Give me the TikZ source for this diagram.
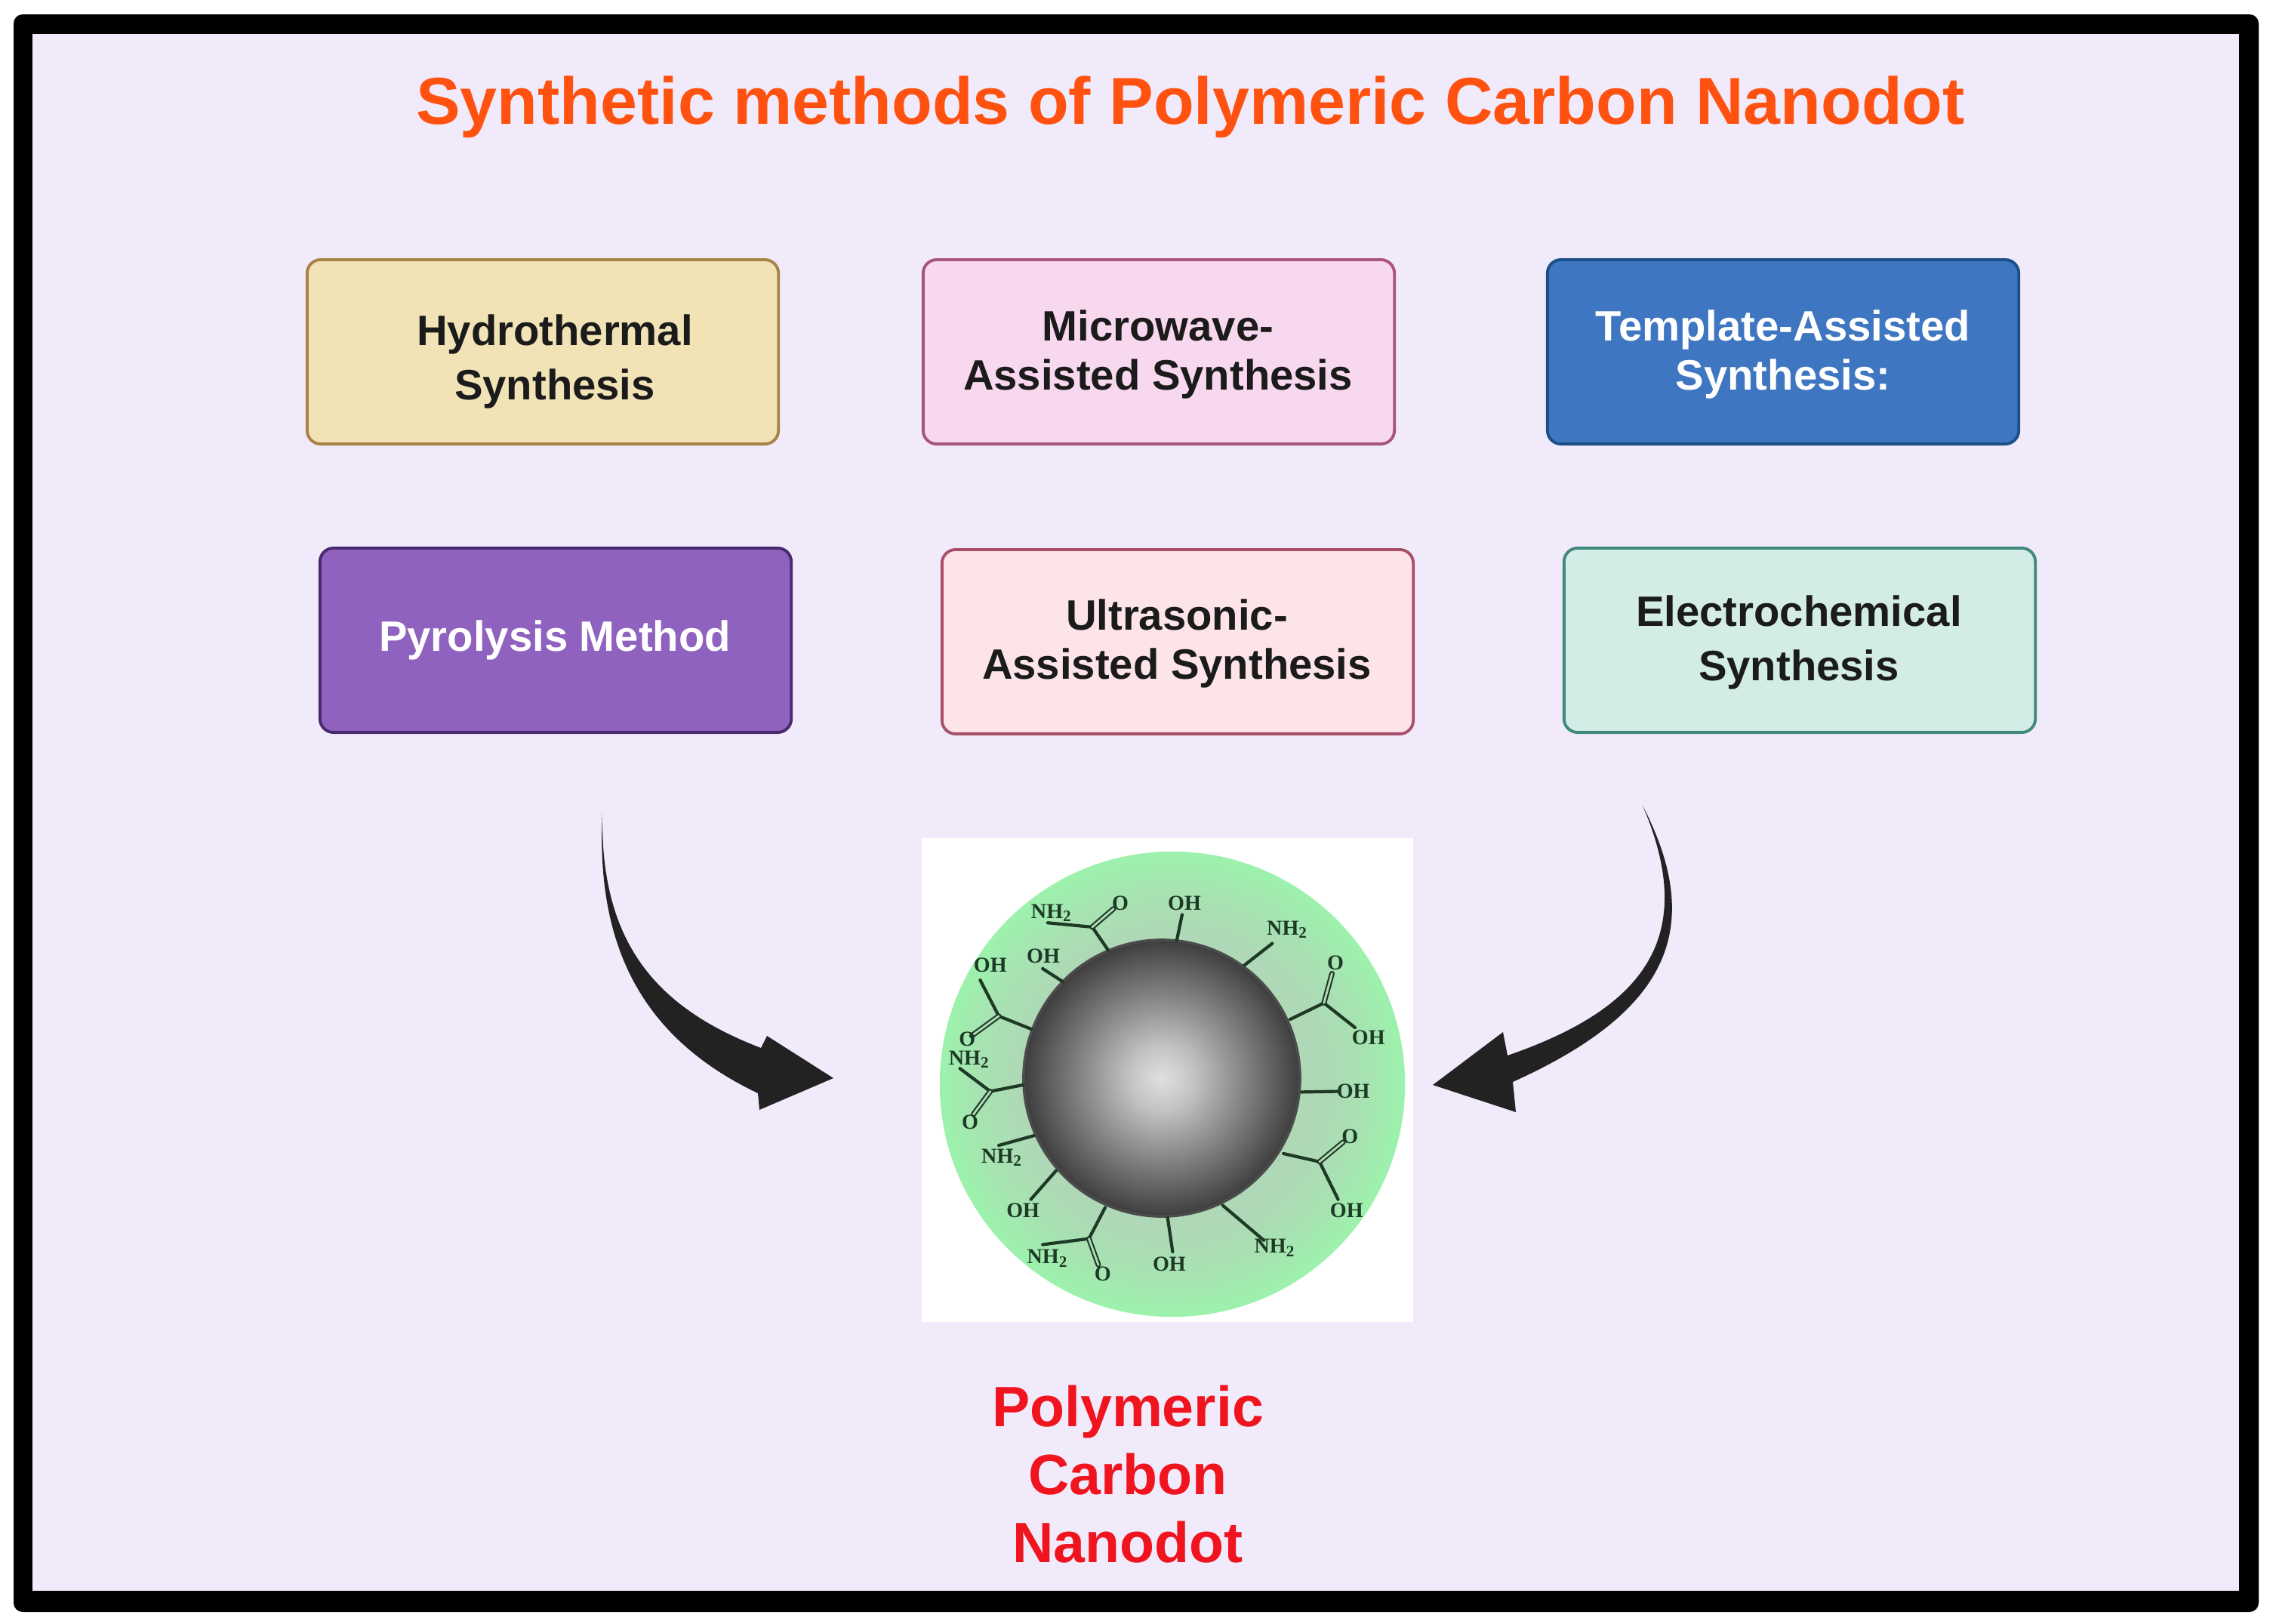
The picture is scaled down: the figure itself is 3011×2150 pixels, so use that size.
\documentclass[tikz,border=0pt]{standalone}
\usepackage{fontspec, tikz, tkz-euclide}
\setmainfont{Liberation Sans}
\newfontfamily\chemfont{Liberation Serif}
\newcommand{\nhtwo}{NH\textsubscript{2}}
\definecolor{pagebg}{HTML}{F1EAFB}
\definecolor{titleorange}{HTML}{FF5210}
\definecolor{nanored}{HTML}{F0141E}
\definecolor{inkdark}{HTML}{1B1B1B}
\definecolor{arrowdark}{HTML}{222222}
\definecolor{chemgreen}{HTML}{1E3A26}
\definecolor{hydrofill}{HTML}{F1E3B6}
\definecolor{hydroline}{HTML}{A88348}
\definecolor{microfill}{HTML}{F8D8EE}
\definecolor{microline}{HTML}{A8527F}
\definecolor{templatefill}{HTML}{3E76C2}
\definecolor{templateline}{HTML}{1C4F86}
\definecolor{pyrofill}{HTML}{8F62BF}
\definecolor{pyroline}{HTML}{4A2A6E}
\definecolor{ultrafill}{HTML}{FCE4E8}
\definecolor{ultraline}{HTML}{A8506A}
\definecolor{electrofill}{HTML}{D3EDE6}
\definecolor{electroline}{HTML}{3F8A7C}
\definecolor{haloin}{HTML}{AFD8B6}
\definecolor{haloout}{HTML}{9CF2AC}
\pgfdeclareradialshading{coreshade}{\pgfpointorigin}{color(0bp)=(white!88!black); color(6bp)=(white!76!black); color(12.5bp)=(white!58!black); color(20bp)=(white!38!black); color(24bp)=(white!27!black); color(25bp)=(white!24!black); color(50bp)=(white!24!black)}
\pgfdeclareradialshading{haloshade}{\pgfpointorigin}{color(0bp)=(haloin); color(16bp)=(haloin); color(21bp)=(haloin!55!haloout); color(25bp)=(haloout); color(50bp)=(haloout)}
\tikzset{
    methodbox/.style={draw=#1line, fill=#1fill, rounded corners=0.18cm, line width=1.1pt, minimum width=6.24cm, minimum height=2.44cm},
    methodtext/.style={font=\fontsize{16}{18.5}\selectfont\bfseries, align=center, text=inkdark},
    bond/.style={line width=1.2pt, color=chemgreen},
    dblbond/.style={line width=0.6pt, double=haloin, double distance=0.8pt, color=chemgreen},
    chemlabel/.style={font=\chemfont\bfseries\fontsize{8}{8}\selectfont, text=chemgreen, inner sep=0pt}
}
\begin{document}
\begin{tikzpicture}[x=0.01cm, y=-0.01cm]
    \useasboundingbox (0,0) rectangle (3011,2150);
    \fill[white] (0,0) rectangle (3011,2150);
    \fill[black, rounded corners=0.12cm] (18,19) rectangle (2992,2135);
    \fill[pagebg] (43,45) rectangle (2966,2107);

    \node[font=\fontsize{25}{30}\selectfont\bfseries, text=titleorange] (title) at (1577,142) {Synthetic methods of Polymeric Carbon Nanodot};

    \node[methodbox=hydro] (hydrobox) at (719,466) {};
    \node[methodbox=micro] (microbox) at (1535,466) {};
    \node[methodbox=template] (templatebox) at (2362,466) {};
    \node[methodbox=pyro] (pyrobox) at (736,848) {};
    \node[methodbox=ultra] (ultrabox) at (1560,850) {};
    \node[methodbox=electro] (electrobox) at (2384,848) {};

    \node[methodtext] (hydrotext) at (735,479) {Hydrothermal\\[2pt]Synthesis};
    \node[methodtext] (microtext) at (1534,469) {Microwave-\\Assisted Synthesis};
    \node[methodtext, text=white] (templatetext) at (2362,469) {Template-Assisted\\Synthesis:};
    \node[methodtext, text=white] (pyrotext) at (735,848) {Pyrolysis Method};
    \node[methodtext] (ultratext) at (1559,852) {Ultrasonic-\\Assisted Synthesis};
    \node[methodtext] (electrotext) at (2383,851) {Electrochemical\\[2pt]Synthesis};

    \fill[arrowdark] (798,1077) .. controls (790,1240) and (840,1370) .. (1004,1448) -- (1006,1470) -- (1104,1428) -- (1016,1372) -- (1008,1388) .. controls (870,1335) and (795,1250) .. (798,1077) -- cycle;
    \fill[arrowdark] (2176,1067) .. controls (2260,1230) and (2210,1340) .. (2004,1433) -- (2008,1473) -- (1898,1437) -- (1991,1367) -- (1997,1398) .. controls (2180,1335) and (2250,1240) .. (2176,1067) -- cycle;

    \fill[white] (1221,1110) rectangle (1872,1751);
    \shade[shading=haloshade] (1553,1436) circle [radius=3.08cm];
    \shade[shading=coreshade] (1539,1428) circle [radius=1.83cm];
    \draw[line width=1pt, color=black!70] (1539,1428) circle [radius=1.83cm];

    \begin{scope}[shift={(1200,1090)}, x=0.004464cm, y=-0.004337cm]
        \tkzDefPoints{802/360/a1, 818/280/a2, 1002/435/b1, 1085/368/b2, 1138/600/c1, 1238/550/c2, 1330/625/c3, 1262/460/c4, 1172/822/d1, 1280/820/d2, 1118/1010/e1, 1225/1035/e2, 1295/975/e3, 1280/1150/e4, 938/1168/f1, 1060/1275/f2, 775/1205/g1, 790/1310/g2}
        \tkzDefPoints{590/1175/h1, 542/1270/h2, 405/1288/h3, 570/1350/h4, 445/1062/i1, 370/1150/i2, 380/955/j1, 275/985/j2, 348/800/k1, 250/820/k2, 160/750/k3, 200/890/k4, 372/630/l1, 275/590/l2, 220/480/l3, 195/650/l4, 465/485/m1, 405/445/m2, 600/390/n1, 552/318/n2, 420/305/n3, 615/262/n4}
        \tkzDrawSegments[bond](a1,a2 b1,b2 c1,c2 c2,c3 d1,d2 e1,e2 e2,e4 f1,f2 g1,g2 h1,h2 h2,h3 i1,i2 j1,j2 k1,k2 k2,k3 l1,l2 l2,l3 m1,m2 n1,n2 n2,n3)
        \tkzDrawSegments[dblbond](c2,c4 e2,e3 h2,h4 k2,k4 l2,l4 n2,n4)
        \foreach \nm/\px/\py/\txt in {oha/825/245/OH, ohb/1370/655/OH, ohc/1325/820/OH, ohd/1305/1183/OH, ohe/780/1348/OH, ohf/347/1183/OH, ohg/250/435/OH, ohh/407/407/OH, nha/1130/325/\nhtwo, nhb/1093/1298/\nhtwo, nhc/420/1330/\nhtwo, nhd/285/1022/\nhtwo, nhe/188/722/\nhtwo, nhf/432/275/\nhtwo, oa/1272/428/O, ob/1315/958/O, oc/583/1378/O, od/190/915/O, oe/182/660/O, of/635/245/O}
            \node[chemlabel] (\nm) at (\px,\py) {\txt};
    \end{scope}

    \node[font=\fontsize{21.4}{25.6}\selectfont\bfseries, text=nanored, align=center] (nanotext) at (1494,1953) {Polymeric\\Carbon\\Nanodot};
\end{tikzpicture}
\end{document}
